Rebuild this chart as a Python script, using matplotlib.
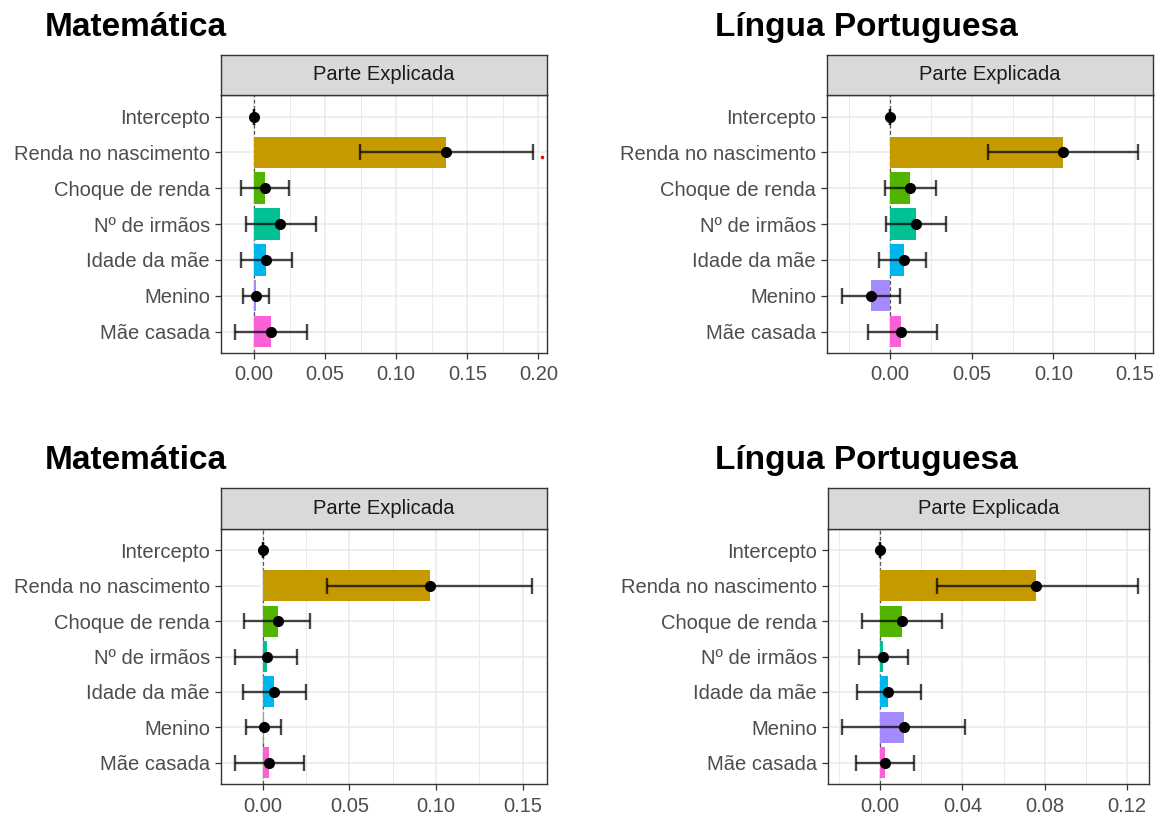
import matplotlib
matplotlib.use("Agg")
import matplotlib.pyplot as plt
import numpy as np
from matplotlib.ticker import FixedLocator, FormatStrFormatter

plt.rcParams['font.family'] = ['Liberation Sans', 'DejaVu Sans']

categories = ["Intercepto", "Renda no nascimento", "Choque de renda", "Nº de irmãos",
              "Idade da mãe", "Menino", "Mãe casada"]
# ggplot default hue palette, one colour per term
colors = ["#F8766D", "#C49A00", "#53B400", "#00C094", "#00B6EB", "#A58AFF", "#FB61D7"]

titles = ["Matemática", "Língua Portuguesa", "Matemática", "Língua Portuguesa"]
strip_label = "Parte Explicada"

# estimates and 95% interval for each panel
mat_top_est = [0.0, 0.135, 0.008, 0.0183, 0.0085, 0.0014, 0.0117]
mat_top_lo = [0.0, 0.0742, -0.0089, -0.0059, -0.0093, -0.0075, -0.0131]
mat_top_hi = [0.0, 0.196, 0.0244, 0.0434, 0.0268, 0.0106, 0.0371]

por_top_est = [0.0, 0.1062, 0.0124, 0.0159, 0.0084, -0.0117, 0.0070]
por_top_lo = [0.0, 0.060, -0.0031, -0.0026, -0.0067, -0.0294, -0.0138]
por_top_hi = [0.0, 0.1516, 0.0282, 0.0341, 0.0223, 0.0061, 0.0288]

mat_bot_est = [0.0, 0.0965, 0.0087, 0.0024, 0.0066, 0.0008, 0.0038]
mat_bot_lo = [0.0, 0.0373, -0.011, -0.016, -0.0112, -0.0098, -0.016]
mat_bot_hi = [0.0, 0.1552, 0.0275, 0.020, 0.0252, 0.0107, 0.0236]

por_bot_est = [0.0, 0.0758, 0.0106, 0.0013, 0.0040, 0.0114, 0.0023]
por_bot_lo = [0.0, 0.0278, -0.0091, -0.0105, -0.0115, -0.0186, -0.012]
por_bot_hi = [0.0, 0.1253, 0.0302, 0.0137, 0.0196, 0.0412, 0.0166]

# stray point drawn in the first panel
stray_x = 0.2026
stray_row = 1.13

x_limits = [(-0.0232, 0.206), (-0.0386, 0.161), (-0.024, 0.164), (-0.0254, 0.1307)]
x_ticks = [[0.0, 0.05, 0.10, 0.15, 0.20], [0.0, 0.05, 0.10, 0.15],
           [0.0, 0.05, 0.10, 0.15], [0.0, 0.04, 0.08, 0.12]]

panels = [(mat_top_est, mat_top_lo, mat_top_hi),
          (por_top_est, por_top_lo, por_top_hi),
          (mat_bot_est, mat_bot_lo, mat_bot_hi),
          (por_bot_est, por_bot_lo, por_bot_hi)]

W, H = 1157, 818
fig = plt.figure(figsize=(W / 100, H / 100), dpi=100)

# panel boxes in pixels: left, right, strip top, plot top, plot bottom
boxes = [(221, 547, 55, 95, 353), (827, 1153, 55, 95, 353),
         (221, 547, 488, 529, 784), (828, 1149, 488, 529, 784)]
title_pos = [(45, 36), (715, 36), (45, 469), (715, 469)]

GRID = "#EBEBEB"
DARK = "#333333"
TXT = "#4D4D4D"
FS = 14.5

for i, (est, lo, hi) in enumerate(panels):
    l, r, st, pt, pb = boxes[i]
    ax = fig.add_axes([l / W, 1 - pb / H, (r - l) / W, (pb - pt) / H])
    sx = fig.add_axes([l / W, 1 - pt / H, (r - l) / W, (pt - st) / H])

    y = np.arange(len(categories))
    est = np.array(est)
    lo = np.array(lo)
    hi = np.array(hi)

    ax.axvline(0, color="#555555", lw=0.9, ls=(0, (3, 2)), zorder=1.5)
    ax.barh(y, est, height=0.88, color=colors, zorder=2)
    ax.errorbar(est, y, xerr=[est - lo, hi - est], fmt="none", ecolor="black",
                elinewidth=1.7, capsize=5.5, capthick=1.7, alpha=0.72, zorder=3)
    ax.plot(est, y, "o", color="black", ms=7, zorder=4)
    if i == 0:
        ax.plot(stray_x, stray_row, "o", color="red", ms=1.6, zorder=4)

    ax.set_ylim(len(categories) - 0.4, -0.6)
    ax.set_xlim(*x_limits[i])
    ax.set_yticks(y)
    ax.set_yticklabels(categories)
    ax.xaxis.set_major_locator(FixedLocator(x_ticks[i]))
    ax.xaxis.set_major_formatter(FormatStrFormatter("%.2f"))
    step = x_ticks[i][1] - x_ticks[i][0]
    minors = np.arange(x_ticks[i][0] - step / 2, x_ticks[i][-1] + step, step)
    ax.xaxis.set_minor_locator(FixedLocator(minors))

    ax.grid(True, which="major", color=GRID, lw=1.2, zorder=0)
    ax.grid(True, which="minor", axis="x", color=GRID, lw=0.7, zorder=0)
    ax.set_axisbelow(True)
    ax.tick_params(axis="both", which="major", length=4, width=0.9, color=DARK,
                   labelcolor=TXT, labelsize=FS)
    ax.tick_params(axis="x", which="major", pad=5)
    ax.tick_params(axis="y", which="major", pad=4)
    ax.tick_params(which="minor", length=0)
    for sp in ax.spines.values():
        sp.set_color(DARK)
        sp.set_linewidth(1.0)

    sx.set_facecolor("#D9D9D9")
    sx.set_xticks([])
    sx.set_yticks([])
    for sp in sx.spines.values():
        sp.set_color(DARK)
        sp.set_linewidth(1.0)
    sx.text(0.5, 0.5, strip_label, ha="center", va="center", fontsize=FS,
            color="#1A1A1A", transform=sx.transAxes)

    tx, ty = title_pos[i]
    fig.text(tx / W, 1 - ty / H, titles[i], fontsize=24, fontweight="bold",
             color="black", ha="left", va="baseline")

fig.savefig("out.png", dpi=100, facecolor="white")
